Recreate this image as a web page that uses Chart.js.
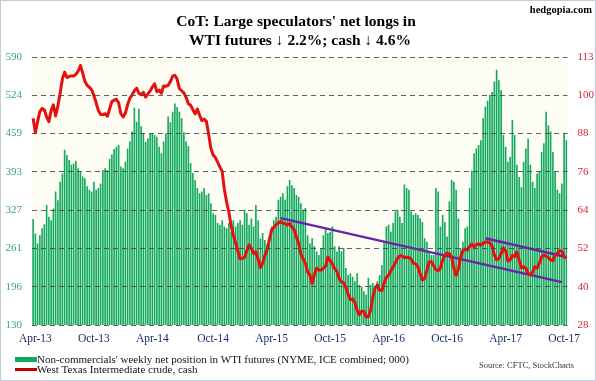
<!DOCTYPE html>
<html>
<head>
<meta charset="utf-8">
<title>CoT: WTI futures</title>
<script src="https://cdn.jsdelivr.net/npm/chart.js@4.4.1/dist/chart.umd.min.js"></script>
<style>
  html, body { margin: 0; padding: 0; background: #fff; }
  #wrap { position: relative; width: 596px; height: 381px; }
</style>
</head>
<body>
<div id="wrap"><canvas id="cotChart"></canvas></div>
<script>
// weekly COT reports, first one 2013-03-26
const firstWeek = Date.UTC(2013, 2, 26);

// non-commercials' net longs, 000 contracts
const netLongs = [
  312, 287, 270, 284, 296, 303, 336, 316, 310, 330,
  359, 344, 376, 390, 431, 422, 413, 405, 407, 412,
  399, 393, 385, 382, 368, 362, 359, 376, 362, 365,
  373, 396, 399, 396, 415, 423, 432, 436, 439, 402,
  399, 410, 433, 445, 462, 503, 479, 501, 471, 459,
  444, 450, 459, 459, 456, 453, 436, 425, 445, 459,
  488,
  478, 496, 510, 504, 496, 485, 461, 445, 437, 408,
  391, 379, 365, 356, 359, 365, 353, 356, 339, 322,
  319, 305, 302, 310, 299, 296, 305, 290, 310, 299,
  305, 310, 302, 328, 322, 302, 313, 299, 336, 310,
  279, 288, 276, 268, 276, 299, 310, 316, 345, 350,
  356, 345, 368, 379, 370, 365, 353, 350, 339, 328,
  331,
  284, 270, 279, 265, 256, 250, 262, 284, 296, 288,
  290, 299, 265, 256, 265, 256, 262, 228, 216, 219,
  213, 205, 219, 199, 196, 188, 182, 211, 199, 202,
  193, 205, 216, 233, 273, 299, 302, 290, 305, 325,
  328, 316, 305, 371, 365, 362, 325, 319, 322, 319,
  313, 307, 279, 273, 256, 250, 250, 365, 359, 299,
  319, 307, 282, 342, 379, 376, 362, 313, 262, 273,
  296, 299, 365, 395, 425, 433, 439, 447, 485, 505,
  515, 525, 530, 548, 568, 550, 533, 456, 436, 410,
  419, 482, 456, 405, 384, 367, 410, 433, 450, 405,
  376, 365, 390, 393, 427, 442, 496, 473, 462, 427,
  393, 362, 356, 373, 459, 447
];

// WTI cash, $/bbl, same weeks
const wtiCash = [
  93.6, 89.0, 92.5, 95.7, 96.7, 96.2, 94.0, 92.5, 96.0, 97.8,
  94.3, 97.5, 101.5, 106.0, 108.2, 106.5, 106.8, 107.0, 107.0, 107.5,
  108.5, 110.3, 108.0, 105.3, 104.0, 103.4, 102.6, 100.8, 98.5, 96.0,
  94.8, 94.7, 95.0, 94.2, 96.5, 98.9, 99.3, 99.6, 98.5, 95.0,
  94.0, 95.2, 97.9, 99.9, 101.0, 102.3, 103.1, 101.5, 101.0, 101.8,
  100.3, 101.3, 102.2, 103.5, 104.5, 102.0, 102.5, 101.5, 103.8, 103.7,
  104.0,
  105.2, 106.9, 107.2, 106.0, 103.0, 102.3, 101.6, 100.2, 98.2, 97.7,
  96.3, 95.0, 96.5, 94.5, 92.8, 93.3, 92.6, 88.6, 84.1, 81.9,
  81.1, 79.7, 78.1, 76.8, 71.0, 67.0, 63.8, 59.5, 56.4, 54.0,
  51.4, 49.0, 49.1, 49.5, 51.6, 53.4, 52.3, 50.6, 51.3, 48.8,
  46.2, 47.6, 50.0, 51.9, 55.2, 58.2, 59.0, 59.8, 60.4, 60.8,
  60.3, 60.2, 59.7, 60.2, 59.1, 58.3, 56.0, 53.8, 50.5, 49.0,
  47.6, 44.8, 43.9, 41.2, 44.0, 46.0, 45.4, 45.4, 46.0, 46.7,
  49.5, 48.5, 47.4, 45.9, 45.0, 42.8, 41.7, 41.4, 39.8, 37.8,
  36.0, 36.3, 35.2, 32.7, 31.3, 32.4, 32.3, 30.6, 30.6, 32.7,
  36.9, 39.7, 40.7, 39.0, 38.9, 41.3, 43.1, 43.8, 45.2, 46.4,
  47.7, 49.2, 50.0, 49.9, 49.4, 49.5, 49.4, 48.9, 47.6, 47.4,
  46.4, 44.3, 42.3, 42.8, 45.3, 48.0, 48.1, 46.8, 45.6, 45.2,
  46.0, 48.6, 50.1, 50.8, 50.6, 49.6, 46.0, 43.8, 45.6, 49.6,
  51.5, 52.2, 51.7, 52.9, 53.7, 52.8, 53.4, 53.8, 53.3, 53.9,
  54.3, 54.4, 54.0, 53.0, 50.2, 48.7, 49.1, 50.6, 52.5, 51.5,
  48.3, 48.6, 50.1, 49.7, 51.2, 48.6, 46.1, 46.5, 46.0, 44.4,
  43.9, 44.8, 46.5, 46.0, 47.6, 49.6, 50.2, 49.8, 49.4, 48.6,
  48.4, 50.0, 50.7, 51.6, 51.4, 49.7, 49.2
];

// trend lines drawn on the cash price
const trendLower = [{ x: '2015-05-05', y: 61.9 }, { x: '2017-09-26', y: 41.6 }];
const trendUpper = [{ x: '2017-01-31', y: 55.5 }, { x: '2017-10-03', y: 49.7 }];

const leftTickLabels = [130, 196, 261, 327, 393, 459, 524, 590];
const rightTickLabels = [28, 40, 52, 64, 76, 88, 100, 113];
const monthNames = ['Jan', 'Feb', 'Mar', 'Apr', 'May', 'Jun', 'Jul', 'Aug', 'Sep', 'Oct', 'Nov', 'Dec'];

const weekLabels = netLongs.map((_, i) =>
    new Date(firstWeek + i * 7 * 86400000).toISOString().slice(0, 10));

const SERIF = "'Liberation Serif', 'Times New Roman', serif";
const BAR_GREEN = '#10a95e';
const CASH_RED = '#e3120f';

// background, title, watermark and legend
const chartDecor = {
    id: 'chartDecor',
    beforeDraw(chart) {
        const c = chart.ctx;
        const a = chart.chartArea;
        c.save();
        c.fillStyle = '#ffffff';
        c.fillRect(0, 0, chart.width, chart.height);
        c.fillStyle = '#fefdf3';
        c.fillRect(a.left, a.top, a.right - a.left, a.bottom - a.top);
        c.restore();
    },
    afterDraw(chart) {
        const c = chart.ctx;
        c.save();
        c.strokeStyle = '#c3ccd9';
        c.lineWidth = 1;
        c.strokeRect(0.5, 0.5, chart.width - 1, chart.height - 1);

        c.fillStyle = '#000';
        c.textAlign = 'center';
        c.textBaseline = 'middle';
        c.font = 'bold 15.5px ' + SERIF;
        c.fillText("CoT: Large speculators' net longs in", 296, 22);
        c.fillText('WTI futures \u2193 2.2%; cash \u2193 4.6%', 300, 41);

        c.textAlign = 'right';
        c.font = 'bold 10.5px ' + SERIF;
        c.fillText('hedgopia.com', 592, 10);

        // legend
        c.fillStyle = BAR_GREEN;
        c.fillRect(15, 357, 22, 5);
        c.strokeStyle = '#c00000';
        c.lineWidth = 3;
        c.beginPath();
        c.moveTo(15, 369.5);
        c.lineTo(37, 369.5);
        c.stroke();

        c.fillStyle = '#111';
        c.textAlign = 'left';
        c.font = '11px ' + SERIF;
        c.fillText("Non-commercials' weekly net position in WTI futures (NYME, ICE combined; 000)", 37, 360);
        c.fillText('West Texas Intermediate crude, cash', 37, 370);

        c.fillStyle = '#333';
        c.font = '8.5px ' + SERIF;
        c.fillText('Source: CFTC, StockCharts', 479, 366);
        c.restore();
    }
};

document.addEventListener('DOMContentLoaded', () => {
    const ctx = document.getElementById('cotChart').getContext('2d');

    new Chart(ctx, {
        data: {
            labels: weekLabels,
            datasets: [
                {
                    type: 'bar',
                    label: 'Non-commercials net position',
                    data: netLongs,
                    yAxisID: 'yLeft',
                    backgroundColor: BAR_GREEN,
                    barPercentage: 0.72,
                    categoryPercentage: 1,
                    order: 3
                },
                {
                    type: 'line',
                    label: 'WTI cash',
                    data: wtiCash,
                    yAxisID: 'yRight',
                    borderColor: CASH_RED,
                    borderWidth: 3,
                    borderJoinStyle: 'round',
                    pointRadius: 0,
                    order: 1
                },
                {
                    type: 'line',
                    data: trendLower,
                    yAxisID: 'yRight',
                    borderColor: '#6b24a8',
                    borderWidth: 2.5,
                    pointRadius: 0,
                    order: 2
                },
                {
                    type: 'line',
                    data: trendUpper,
                    yAxisID: 'yRight',
                    borderColor: '#6b24a8',
                    borderWidth: 2.5,
                    pointRadius: 0,
                    order: 2
                }
            ]
        },
        options: {
            responsive: true,
            maintainAspectRatio: false,
            animation: false,
            layout: { padding: { top: 57, bottom: 32, left: 0, right: 0 } },
            plugins: {
                legend: { display: false },
                title: { display: false },
                tooltip: { enabled: false }
            },
            scales: {
                x: {
                    grid: { display: false, drawTicks: false },
                    border: { display: false },
                    ticks: {
                        autoSkip: false,
                        maxRotation: 0,
                        padding: 7,
                        color: '#1c2a66',
                        font: { family: SERIF, size: 11.5 },
                        callback: function (value) {
                            const d = new Date(this.getLabelForValue(value) + 'T00:00:00Z');
                            const m = d.getUTCMonth();
                            if ((m === 3 || m === 9) && d.getUTCDate() <= 7) {
                                return monthNames[m] + '-' + String(d.getUTCFullYear()).slice(2);
                            }
                            return null;
                        }
                    },
                    afterFit: (scale) => { scale.height = 24; }
                },
                yLeft: {
                    position: 'left',
                    min: 130,
                    max: 590,
                    grid: { color: 'rgba(70,70,70,0.85)', lineWidth: 1, drawTicks: false, z: 1 },
                    border: { display: false, dash: [5, 4] },
                    afterBuildTicks: (scale) => {
                        scale.ticks = leftTickLabels.map((_, k) => ({ value: 130 + k * 460 / 7 }));
                    },
                    ticks: {
                        padding: 10,
                        color: '#37a57c',
                        font: { family: SERIF, size: 11 },
                        callback: (v, i) => leftTickLabels[i]
                    },
                    afterFit: (scale) => { scale.width = 32; }
                },
                yRight: {
                    position: 'right',
                    min: 28,
                    max: 113,
                    grid: { display: false, drawTicks: false },
                    border: { display: false },
                    afterBuildTicks: (scale) => {
                        scale.ticks = rightTickLabels.map((_, k) => ({ value: 28 + k * 85 / 7 }));
                    },
                    ticks: {
                        padding: 10,
                        color: '#d4243a',
                        font: { family: SERIF, size: 11 },
                        callback: (v, i) => rightTickLabels[i]
                    },
                    afterFit: (scale) => { scale.width = 28.5; }
                }
            }
        },
        plugins: [chartDecor]
    });
});
</script>
</body>
</html>
